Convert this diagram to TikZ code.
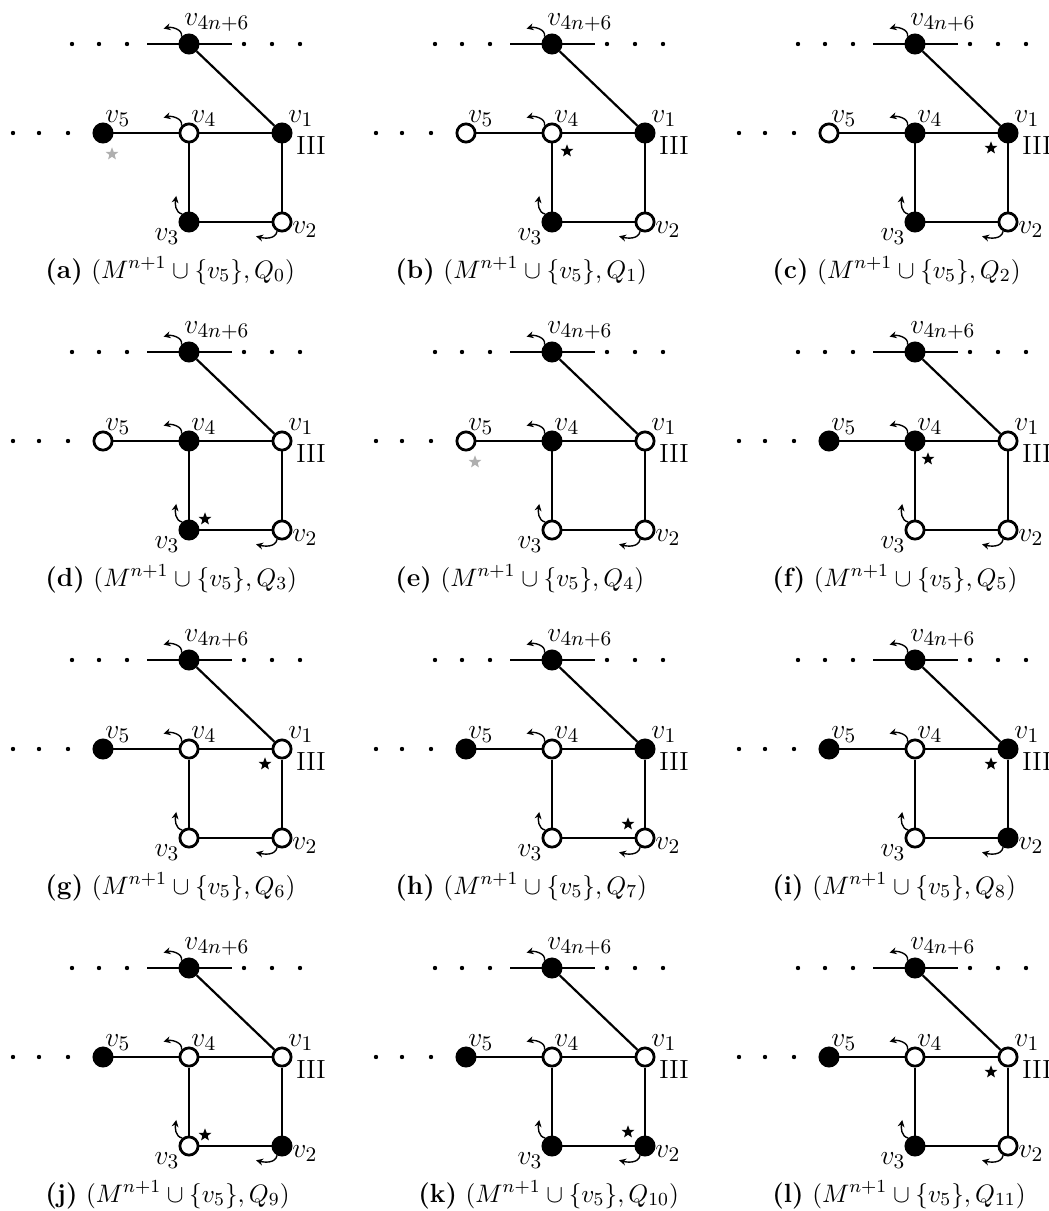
\documentclass[tikz,border=0pt]{standalone}
\usepackage{amsmath,amssymb}
\usetikzlibrary{arrows.meta,shapes.geometric}
\definecolor{starg}{RGB}{175,175,175}
\tikzset{
  vtx/.style={circle, draw=black, line width=1.2pt, minimum size=7.9pt, inner sep=0pt},
  vb/.style={vtx, fill=black},
  vw/.style={vtx, fill=white},
  edg/.style={line width=0.95pt},
  dotn/.style={circle, fill=black, inner sep=0pt, minimum size=1.9pt},
  lab/.style={inner sep=0pt, font=\fontsize{12.4}{14}\selectfont},
  romlab/.style={inner sep=0pt, font=\fontsize{11.4}{13}\selectfont},
  turn/.style={-{Stealth[length=3pt,width=3pt]}, line width=0.6pt},
  mstar/.style={star, star points=5, star point ratio=2.4, fill=black, inner sep=0pt, minimum size=5.8pt},
  gstar/.style={mstar, fill=starg},
  captxt/.style={inner sep=0pt, anchor=base west, font=\fontsize{11.4}{13}\selectfont}
}
% #1 prefix, #2 x, #3 y, #4 v5, #5 v4, #6 v1, #7 v3, #8 v2
\newcommand\gpanel[8]{%
\begin{scope}[shift={(#2,#3)}]
  \node[vb] (#1-t) at (0,0) {};
  \node[#4] (#1-v5) at (-86,-89) {};
  \node[#5] (#1-v4) at (0,-89) {};
  \node[#6] (#1-v1) at (93,-89) {};
  \node[#7] (#1-v3) at (0,-178) {};
  \node[#8] (#1-v2) at (93,-178) {};
  \coordinate (#1-tl) at (-42,0);
  \coordinate (#1-tr) at (43,0);
  \draw[edg] (#1-tl) -- (#1-t);
  \draw[edg] (#1-t) -- (#1-tr);
  \draw[edg] (#1-t) -- (#1-v1);
  \draw[edg] (#1-v5) -- (#1-v4);
  \draw[edg] (#1-v4) -- (#1-v1);
  \draw[edg] (#1-v4) -- (#1-v3);
  \draw[edg] (#1-v3) -- (#1-v2);
  \draw[edg] (#1-v1) -- (#1-v2);
  \foreach \k/\xx in {1/-117,2/-90,3/-62,4/55,5/83,6/111}
    \node[dotn] (#1-td\k) at (\xx,0) {};
  \foreach \k/\xx in {1/-176,2/-150,3/-121}
    \node[dotn] (#1-ld\k) at (\xx,-89) {};
  \node[lab, anchor=base west] (#1-lt) at (-5,19) {$v_{4n+6}$};
  \node[lab, anchor=base west] (#1-l5) at (-84,-78) {$v_5$};
  \node[lab, anchor=base west] (#1-l4) at (2,-78) {$v_4$};
  \node[lab, anchor=base west] (#1-l1) at (99,-78) {$v_1$};
  \node[romlab, anchor=base west] (#1-l3r) at (107,-110) {III};
  \node[lab, anchor=base west] (#1-l2) at (103,-189) {$v_2$};
  \node[lab, anchor=base east] (#1-l3) at (-9,-196) {$v_3$};
  \draw[turn] (#1-t.135) to[out=80,in=15] ++(-18,8);
  \draw[turn] (#1-v4.135) to[out=80,in=15] ++(-18,8);
  \draw[turn] (#1-v3.130) to[out=170,in=-100] ++(-6,18);
  \draw[turn] (#1-v2.-118) to[out=-100,in=-15] ++(-21,-5);
\end{scope}}
\begin{document}
\begin{tikzpicture}[x=0.4338pt,y=0.4338pt]
\useasboundingbox (0,0) rectangle (1049,-1211);
% row 1
\gpanel{a}{189}{-44}{vb}{vw}{vb}{vb}{vw}
\node[gstar] (a-s) at (189-86+9,-44-89-21) {};
\node[captxt] (a-c) at (45,-278) {\textbf{(a)} $(M^{n+1}\cup\{v_5\},Q_0)$};
\gpanel{b}{552}{-44}{vw}{vw}{vb}{vb}{vw}
\node[mstar] (b-s) at (552+15,-44-89-18) {};
\node[captxt] (b-c) at (395,-278) {\textbf{(b)} $(M^{n+1}\cup\{v_5\},Q_1)$};
\gpanel{c}{915}{-44}{vw}{vb}{vb}{vb}{vw}
\node[mstar] (c-s) at (915+93-17,-44-89-15) {};
\node[captxt] (c-c) at (772,-278) {\textbf{(c)} $(M^{n+1}\cup\{v_5\},Q_2)$};
% row 2
\gpanel{d}{189}{-352}{vw}{vb}{vw}{vb}{vw}
\node[mstar] (d-s) at (189+16,-352-178+11) {};
\node[captxt] (d-c) at (45,-586) {\textbf{(d)} $(M^{n+1}\cup\{v_5\},Q_3)$};
\gpanel{e}{552}{-352}{vw}{vb}{vw}{vw}{vw}
\node[gstar] (e-s) at (552-86+9,-352-89-21) {};
\node[captxt] (e-c) at (395,-586) {\textbf{(e)} $(M^{n+1}\cup\{v_5\},Q_4)$};
\gpanel{f}{915}{-352}{vb}{vb}{vw}{vw}{vw}
\node[mstar] (f-s) at (915+13,-352-89-18) {};
\node[captxt] (f-c) at (772,-586) {\textbf{(f)} $(M^{n+1}\cup\{v_5\},Q_5)$};
% row 3
\gpanel{g}{189}{-660}{vb}{vw}{vw}{vw}{vw}
\node[mstar] (g-s) at (189+93-17,-660-89-15) {};
\node[captxt] (g-c) at (45,-894) {\textbf{(g)} $(M^{n+1}\cup\{v_5\},Q_6)$};
\gpanel{h}{552}{-660}{vb}{vw}{vb}{vw}{vw}
\node[mstar] (h-s) at (552+93-17,-660-178+14) {};
\node[captxt] (h-c) at (395,-894) {\textbf{(h)} $(M^{n+1}\cup\{v_5\},Q_7)$};
\gpanel{i}{915}{-660}{vb}{vw}{vb}{vw}{vb}
\node[mstar] (i-s) at (915+93-17,-660-89-15) {};
\node[captxt] (i-c) at (772,-894) {\textbf{(i)} $(M^{n+1}\cup\{v_5\},Q_8)$};
% row 4
\gpanel{j}{189}{-968}{vb}{vw}{vw}{vw}{vb}
\node[mstar] (j-s) at (189+16,-968-178+11) {};
\node[captxt] (j-c) at (45,-1202) {\textbf{(j)} $(M^{n+1}\cup\{v_5\},Q_9)$};
\gpanel{k}{552}{-968}{vb}{vw}{vw}{vb}{vb}
\node[mstar] (k-s) at (552+93-17,-968-178+14) {};
\node[captxt] (k-c) at (418,-1202) {\textbf{(k)} $(M^{n+1}\cup\{v_5\},Q_{10})$};
\gpanel{l}{915}{-968}{vb}{vw}{vw}{vb}{vw}
\node[mstar] (l-s) at (915+93-17,-968-89-15) {};
\node[captxt] (l-c) at (772,-1202) {\textbf{(l)} $(M^{n+1}\cup\{v_5\},Q_{11})$};
\end{tikzpicture}
\end{document}
